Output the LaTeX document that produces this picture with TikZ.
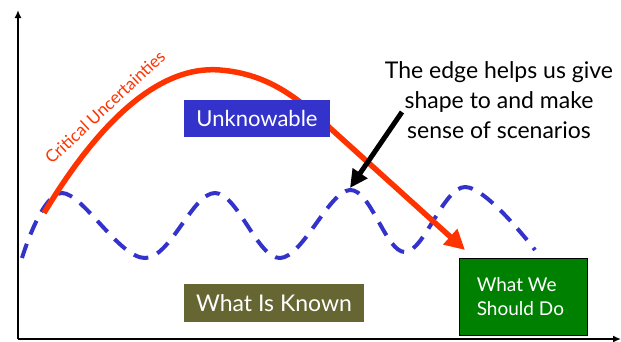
\documentclass[tikz,border=0pt]{standalone}
\usepackage{fontspec}
\setmainfont{Lato}
\usetikzlibrary{arrows.meta}
\definecolor{ublue}{HTML}{3333CC}
\definecolor{olive}{HTML}{666633}
\definecolor{sgreen}{HTML}{008000}
\definecolor{cred}{HTML}{FF3300}
\tikzset{
  box/.style={inner sep=0pt, minimum height=37pt, text=white, font=\fontsize{22}{26}\selectfont},
  axis/.style={line width=2pt, -{Latex[length=8pt,width=7pt]}},
}
\begin{document}
\begin{tikzpicture}[x=1pt,y=-1pt]
\useasboundingbox (0,0) rectangle (621,341);
% axes
\coordinate (o) at (18,339);
\coordinate (ytop) at (18,10);
\coordinate (xend) at (621,339);
\draw[axis] (o) -- (ytop);
\draw[axis] (o) -- (xend);
% dashed wave
\draw[ublue, line width=4pt, dash pattern=on 15pt off 10pt, line cap=butt]
  plot[smooth, tension=0.6] coordinates {(22,258) (62,193) (145,258) (215,193) (280,258) (350,190) (405,252) (465,187) (535,250)};
% red curve
\coordinate (rs) at (44,213);
\coordinate (rm) at (330,128);
\coordinate (rt) at (465,250);
\draw[cred, line width=5.5pt, -{Triangle[length=20pt,width=20pt]}]
  (rs) .. controls (100,120) and (160,65) .. (220,70)
  .. controls (270,74) and (300,100) .. (rm) -- (rt);
% label along curve
\node[text=cred, font=\fontsize{17}{19}\selectfont, rotate=43, inner sep=0pt] (cu) at (105,107) {Critical Uncertainties};
% boxes
\node[box, fill=ublue, minimum width=146pt] (unk) at (257,118.5) {Unknowable};
\node[box, fill=olive, minimum width=180pt, minimum height=38pt, font=\fontsize{23}{26}\selectfont] (known) at (274,303) {What Is Known};
\node[draw=black, line width=0.8pt, fill=sgreen, minimum width=128pt, minimum height=77pt, inner sep=0pt] (wwsd) at (523,296.5) {};
\node[text=white, align=left, anchor=west, inner sep=0pt, font=\fontsize{19}{24}\selectfont] (wwsdt) at ([xshift=18pt]wwsd.west) {What We\\Should Do};
% annotation
\node[align=center, font=\fontsize{23}{30}\selectfont] (note) at (499,100) {The edge helps us give\\shape to and make\\sense of scenarios};
\coordinate (bs) at (402,112);
\coordinate (bt) at (350,188);
\draw[black, line width=5pt, -{Triangle[length=18pt,width=17pt]}] (bs) -- (bt);
\end{tikzpicture}
\end{document}
